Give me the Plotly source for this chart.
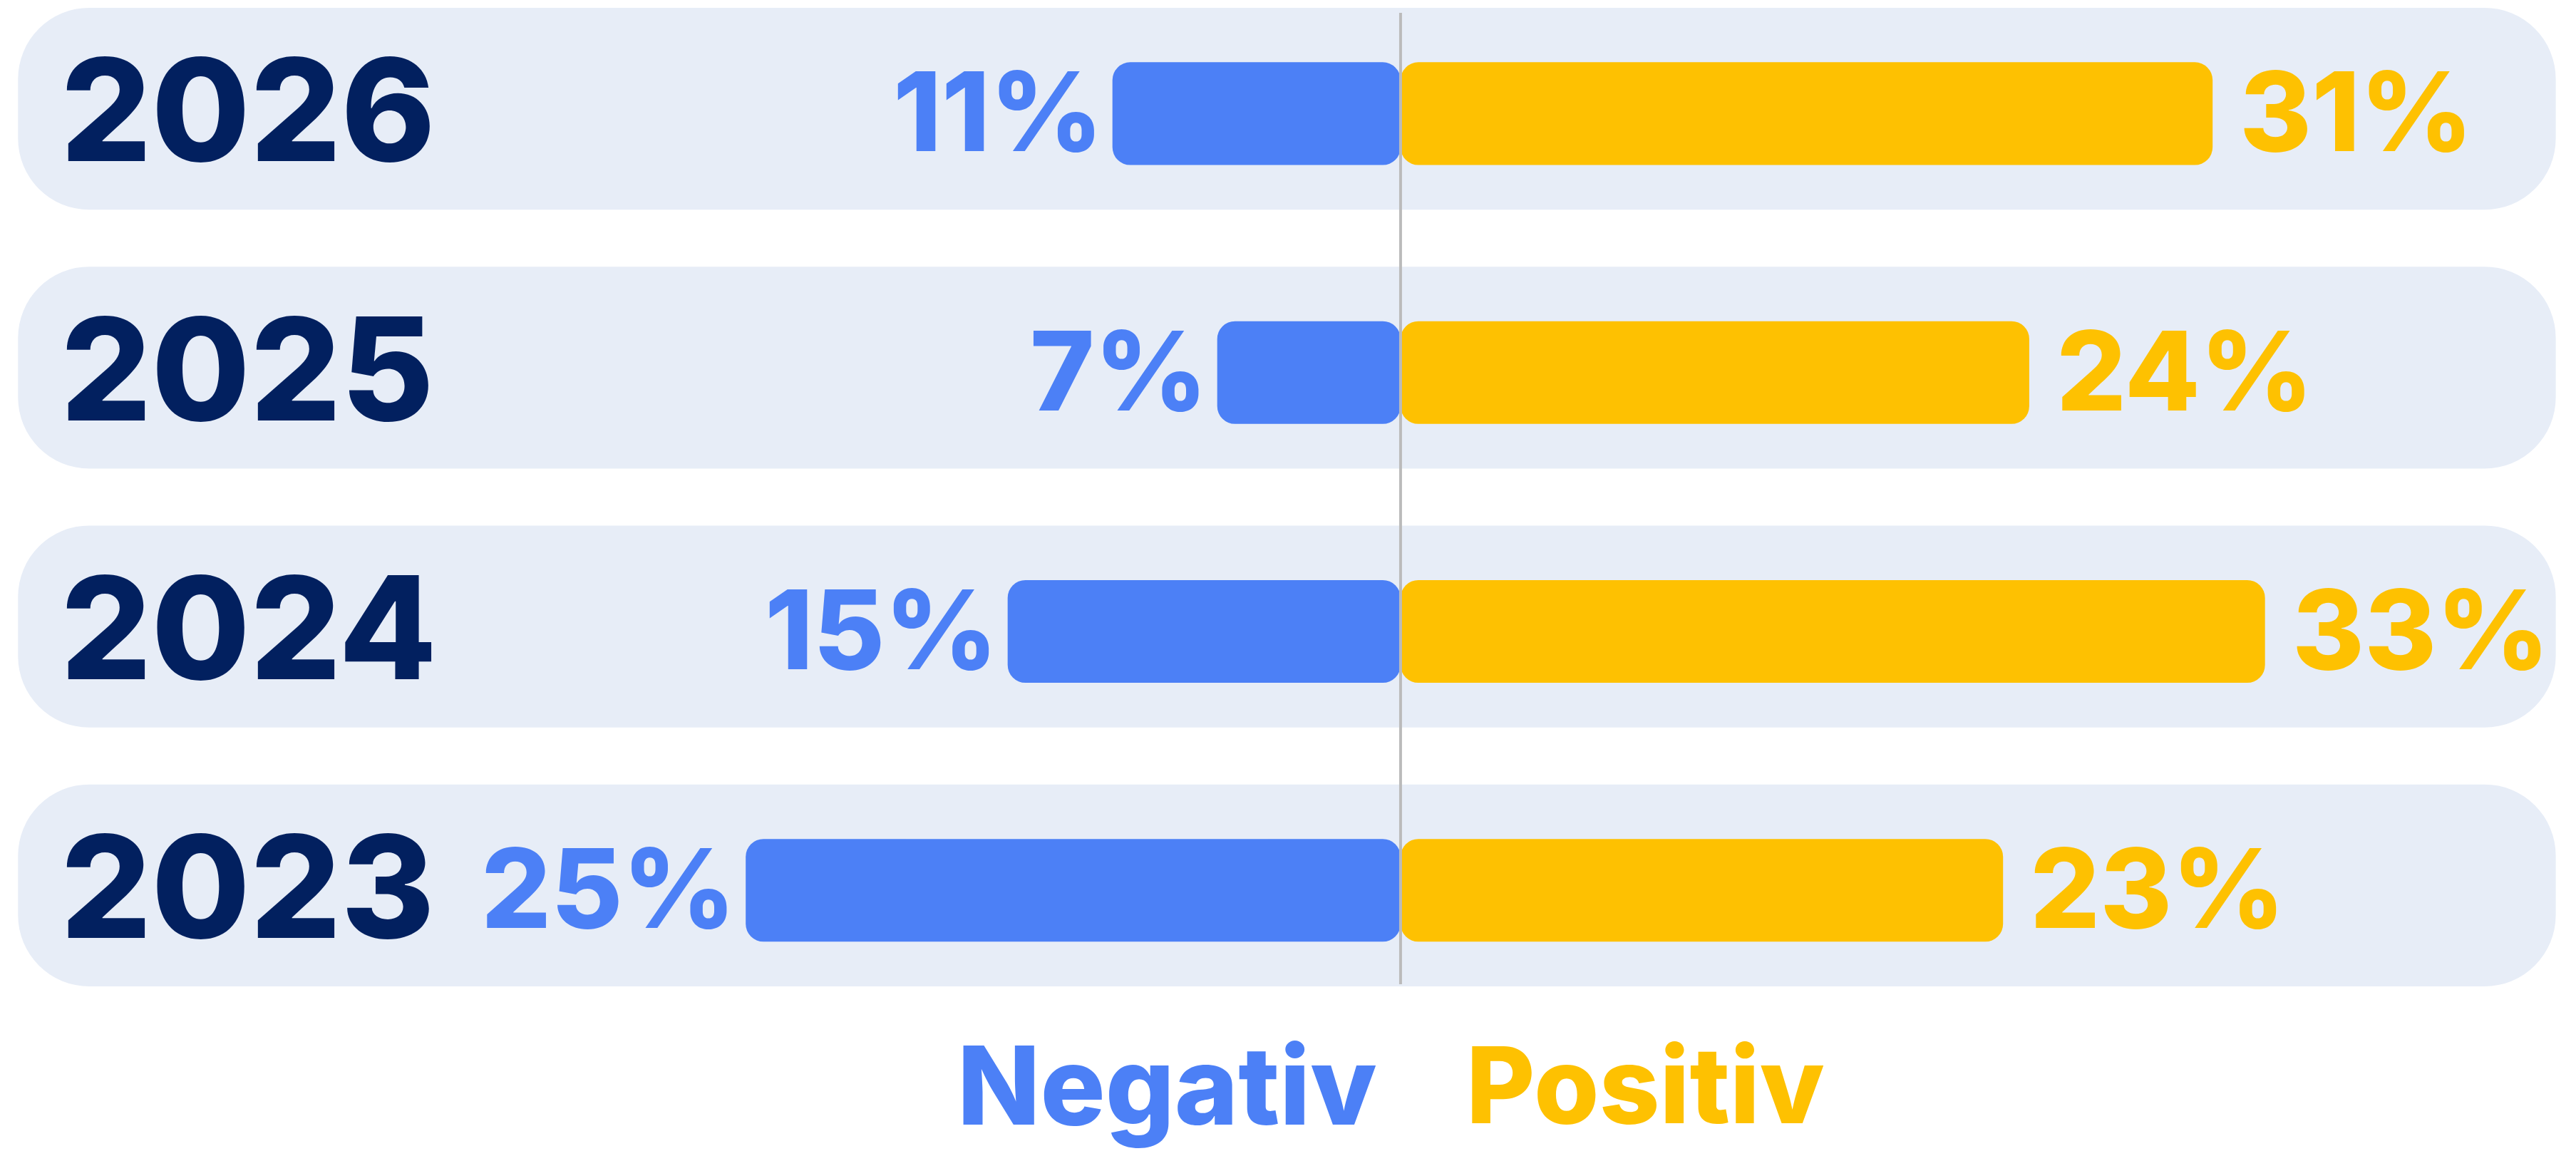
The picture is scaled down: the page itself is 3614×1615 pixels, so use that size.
import plotly.graph_objects as go

YEARS = ["2023", "2024", "2025", "2026"]
NEGATIVE = [25, 15, 7, 11]
POSITIVE = [23, 33, 24, 31]
LEGEND = ["Negativ", "Positiv"]

BLUE = "#4C80F6"
YELLOW = "#FEC101"
NAVY = "#02205F"
ROW_BG = "#E7EDF7"
GREY = "#BBBBBB"
FONT = "Inter"

W, H = 3614, 1615
X_RANGE = [-53.25, 45.09]
Y_RANGE = [-0.437, 3.417]
ROW_LEFT, ROW_RIGHT = -52.78, 44.1
YEAR_X = -51.2

pos = list(range(len(YEARS)))
zeros = [0] * len(YEARS)

fig = go.Figure()

# rounded row backgrounds
fig.add_bar(y=pos, x=[ROW_RIGHT - ROW_LEFT] * len(pos), base=ROW_LEFT,
            orientation="h", width=0.78, offset=-0.371,
            marker=dict(color=ROW_BG, cornerradius=100, line_width=0),
            hoverinfo="skip", showlegend=False)

# base given explicitly so plotly rounds the corners
fig.add_bar(y=pos, x=[-v for v in NEGATIVE], base=zeros, orientation="h",
            width=0.397, marker=dict(color=BLUE, cornerradius=25, line_width=0),
            hoverinfo="skip", showlegend=False)
fig.add_bar(y=pos, x=POSITIVE, base=zeros, orientation="h", width=0.397,
            marker=dict(color=YELLOW, cornerradius=25, line_width=0),
            hoverinfo="skip", showlegend=False)

for i, yr in enumerate(YEARS):
    fig.add_annotation(x=YEAR_X, y=i, text=yr, showarrow=False,
                       xanchor="left", yshift=6,
                       font=dict(family=FONT, size=200, color=NAVY, weight=800))

for i, v in enumerate(NEGATIVE):
    fig.add_annotation(x=-v, y=i, text=f"{v}%", showarrow=False,
                       xanchor="right", xshift=-12, yshift=3,
                       font=dict(family=FONT, size=154, color=BLUE, weight=800))
for i, v in enumerate(POSITIVE):
    fig.add_annotation(x=v, y=i, text=f"{v}%", showarrow=False,
                       xanchor="left", xshift=36, yshift=3,
                       font=dict(family=FONT, size=154, color=YELLOW, weight=800))

fig.add_annotation(x=0.5330, y=-0.082, xref="paper", yref="paper",
                   text=LEGEND[0], showarrow=False, xanchor="right",
                   yanchor="middle",
                   font=dict(family=FONT, size=152, color=BLUE, weight=800))
fig.add_annotation(x=0.5665, y=-0.082, xref="paper", yref="paper",
                   text=LEGEND[1], showarrow=False, xanchor="left",
                   yanchor="middle",
                   font=dict(family=FONT, size=148, color=YELLOW, weight=800))

fig.add_shape(type="line", x0=0, x1=0, xref="x", yref="paper",
              y0=1 - 1373 / 1400, y1=1 - 10 / 1400,
              line=dict(color=GREY, width=4), layer="above")

fig.update_layout(
    width=W, height=H, barmode="overlay",
    margin=dict(l=0, r=0, t=0, b=H - 1400),
    paper_bgcolor="white", plot_bgcolor="white",
    xaxis=dict(range=X_RANGE, visible=False, fixedrange=True),
    yaxis=dict(range=Y_RANGE, visible=False, fixedrange=True),
    hovermode=False)

fig.write_html("out.html")
